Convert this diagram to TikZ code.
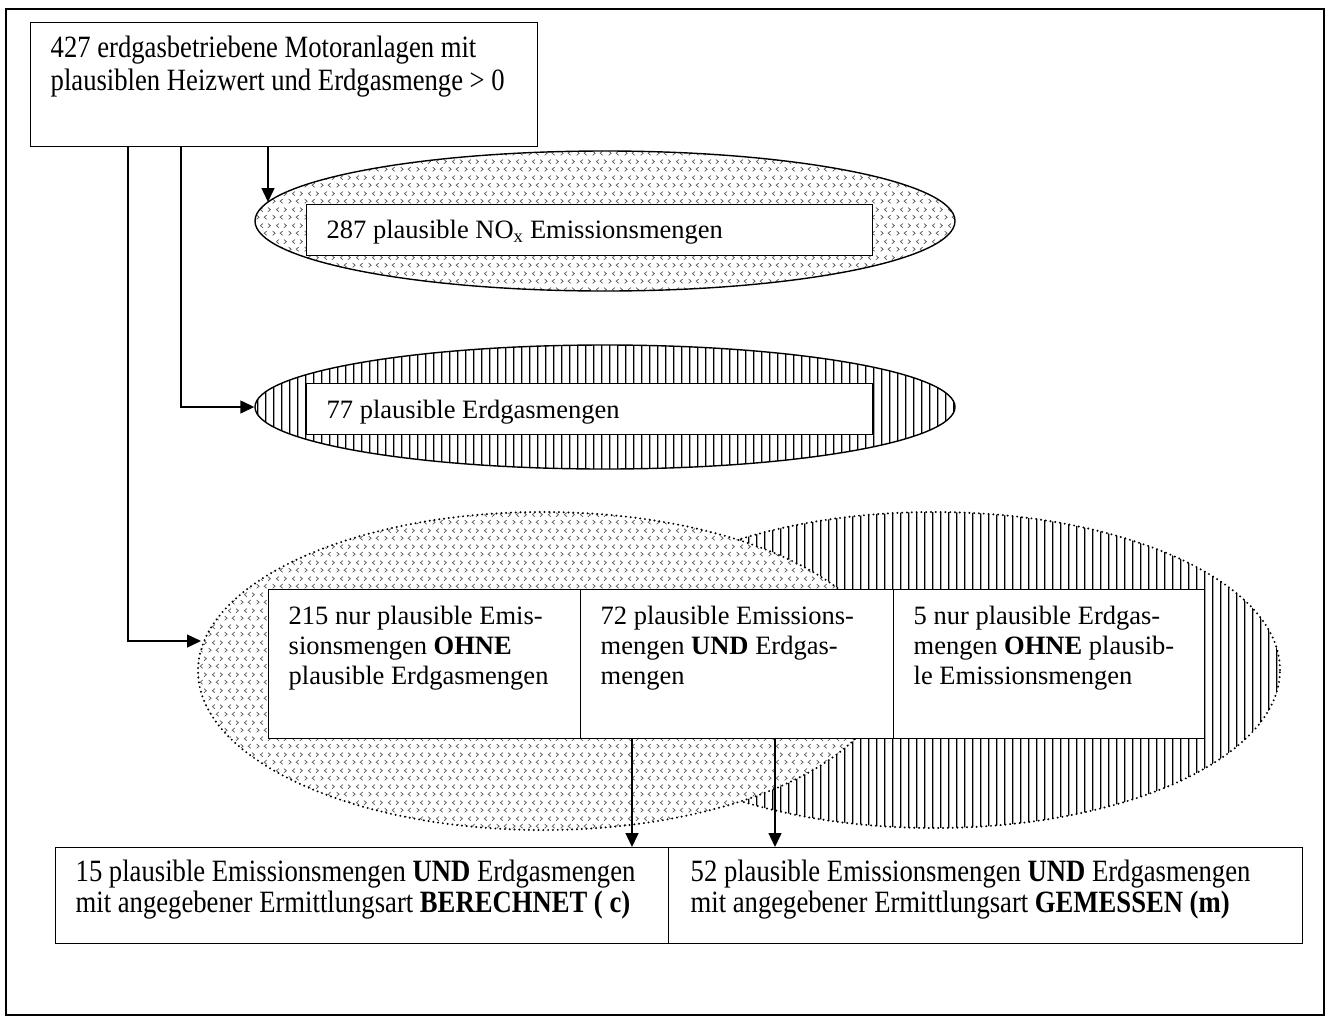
\documentclass[tikz,border=0pt]{standalone}
\usepackage{fontspec}
\setmainfont{Liberation Serif}
\newfontfamily\tallserif{Liberation Serif}[FakeStretch=0.86]
\usetikzlibrary{shapes.geometric,arrows.meta,patterns.meta}

% chevron pattern  (< > marks)
\newcommand\chevR[2]{%
  \pgfpathmoveto{\pgfpoint{#1pt-1.3pt}{#2pt+2.2pt}}%
  \pgfpathlineto{\pgfpoint{#1pt+1.3pt}{#2pt}}%
  \pgfpathlineto{\pgfpoint{#1pt-1.3pt}{#2pt-2.2pt}}}
\newcommand\chevL[2]{%
  \pgfpathmoveto{\pgfpoint{#1pt+1.3pt}{#2pt+2.2pt}}%
  \pgfpathlineto{\pgfpoint{#1pt-1.3pt}{#2pt}}%
  \pgfpathlineto{\pgfpoint{#1pt+1.3pt}{#2pt-2.2pt}}}

\pgfdeclarepattern{
  name=chevrons,
  type=uncolored,
  bottom left={\pgfpoint{0pt}{0pt}},
  top right={\pgfpoint{16pt}{16pt}},
  tile size={\pgfpoint{16pt}{16pt}},
  code={
    \pgfsetlinewidth{0.75pt}
    \chevR{2}{4}\chevL{10}{4}
    \chevL{6}{12}\chevR{14}{12}
    \pgfusepath{stroke}
  }
}

\pgfdeclarepattern{
  name=vstripes,
  type=uncolored,
  bottom left={\pgfpoint{0pt}{0pt}},
  top right={\pgfpoint{7.7pt}{8pt}},
  tile size={\pgfpoint{7.7pt}{8pt}},
  code={
    \pgfsetlinewidth{1.3pt}
    \pgfpathmoveto{\pgfpoint{3.85pt}{-1pt}}\pgfpathlineto{\pgfpoint{3.85pt}{9pt}}
    \pgfusepath{stroke}
  }
}

% text placed in a box of fixed size: width, height, top space, left indent, text
\newcommand\tbox[5]{\parbox[t][#2][t]{#1}{\vspace*{#3}\leftskip=#4\relax
  \rightskip=0pt plus 1fil\relax\parindent=0pt\relax\strut #5\par}}

\begin{document}
\begin{tikzpicture}[x=1pt,y=-1pt,
  txt/.style={font=\fontsize{26.5}{30}\selectfont},
  talltxt/.style={font=\tallserif\fontsize{31}{#1}\selectfont},
  box/.style={draw, line width=1.4pt, fill=white, inner sep=0pt, anchor=north west},
  ellA/.style={ellipse, draw, line width=1.4pt, inner sep=0pt, pattern=chevrons,
    pattern color=black!65, preaction={fill=white}},
  ellB/.style={ellipse, draw, line width=1.4pt, inner sep=0pt, pattern=vstripes,
    pattern color=black, preaction={fill=white}},
  dotborder/.style={line width=2.2pt, dash pattern=on 0pt off 4.8pt, line cap=round},
  arr/.style={line width=1.4pt, -{Triangle[length=14pt,width=13pt]}}
]
\useasboundingbox (0,0) rectangle (1330,1021);
\draw[line width=1.2pt] (6,9) rectangle (1324,1015);

% top box
\node[box, talltxt=33] (top) at (30,22)
  {\tbox{507pt}{124pt}{11.5pt}{20pt}{427 erdgasbetriebene Motoranlagen mit\\plausiblen Heizwert und Erdgasmenge > 0}};

% ellipse 1
\node[ellA, minimum width=700pt, minimum height=140pt] (e1) at (605,221) {};
\node[box, txt] (r1) at (306,204)
  {\tbox{566pt}{51pt}{13pt}{20pt}{287 plausible NO\textsubscript{x} Emissionsmengen}};

% ellipse 2
\node[ellB, minimum width=700pt, minimum height=124pt] (e2) at (605,407) {};
\node[box, txt] (r2) at (306,383)
  {\tbox{566pt}{51pt}{14pt}{20pt}{77 plausible Erdgasmengen}};

% big ellipses
\node[ellB, dotborder, minimum width=692pt, minimum height=316pt] (eR) at (934,670) {};
\node[ellA, dotborder, minimum width=690pt, minimum height=318pt] (eL) at (543,671) {};

% table cells
\node[box, txt] (c1) at (268,589)
  {\tbox{312pt}{149pt}{14pt}{20pt}{215 nur plausible Emis-\\sionsmengen \textbf{OHNE}\\plausible Erdgasmengen}};
\node[box, txt] (c2) at (580,589)
  {\tbox{313pt}{149pt}{14pt}{20pt}{72 plausible Emissions-\\mengen \textbf{UND} Erdgas-\\mengen}};
\node[box, txt] (c3) at (893,589)
  {\tbox{311pt}{149pt}{14pt}{20pt}{5 nur plausible Erdgas-\\mengen \textbf{OHNE} plausib-\\le Emissionsmengen}};

% bottom boxes
\node[box, talltxt=30] (b1) at (55,847)
  {\tbox{613pt}{96pt}{12pt}{20pt}{15 plausible Emissionsmengen \textbf{UND} Erdgasmengen\\mit angegebener Ermittlungsart \textbf{BERECHNET ( c)}}};
\node[box, talltxt=30] (b2) at (668,847)
  {\tbox{634pt}{96pt}{12pt}{22pt}{52 plausible Emissionsmengen \textbf{UND} Erdgasmengen\\mit angegebener Ermittlungsart \textbf{GEMESSEN (m)}}};

% connectors
\coordinate (p1) at (268,202);
\coordinate (k2) at (181,407);
\coordinate (k3) at (128,641);
\coordinate (p3) at (201,641);
\coordinate (d1) at (632,0);
\coordinate (d2) at (775,0);
\draw[arr] (top.south -| p1) -- (p1);
\draw[arr] (top.south -| k2) -- (k2) -- (e2.west);
\draw[arr] (top.south -| k3) -- (k3) -- (p3);
\draw[arr] (c2.south -| d1) -- (b1.north -| d1);
\draw[arr] (c2.south -| d2) -- (b2.north -| d2);
\end{tikzpicture}
\end{document}
